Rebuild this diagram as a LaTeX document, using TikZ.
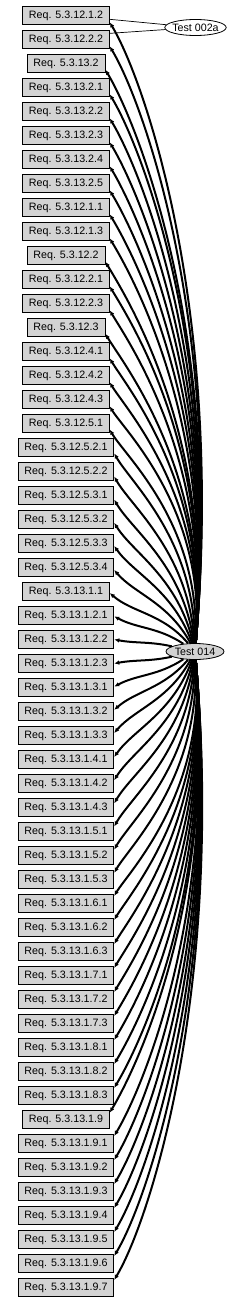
\documentclass[tikz,border=0pt]{standalone}
\usepackage{fontspec}
\usepackage{tikz}
\usetikzlibrary{arrows.meta,shapes.geometric}
\newfontfamily\reqfont{Liberation Sans}
\definecolor{reqgray}{RGB}{211,211,211}
\tikzset{
  req/.style={draw=black, line width=0.8pt, fill=reqgray, rectangle,
    minimum height=18pt, inner xsep=6.3pt, inner ysep=0pt},
  testnode/.style={draw=black, line width=0.8pt, ellipse, minimum width=58pt,
    minimum height=16pt, inner xsep=-1.5pt, inner ysep=0pt},
  dep/.style={line width=2pt, -{Latex[length=5pt,width=4.5pt]}},
  link/.style={line width=0.7pt}}

\begin{document}
\begin{tikzpicture}[x=1pt, y=1pt, font={\reqfont\fontsize{10.7}{12}\selectfont}]
  \useasboundingbox (0,0) rectangle (244,-1303);
  % requirement boxes
  \foreach \lbl [count=\i] in {5.3.12.1.2, 5.3.12.2.2, 5.3.13.2, 5.3.13.2.1,
      5.3.13.2.2, 5.3.13.2.3, 5.3.13.2.4, 5.3.13.2.5, 5.3.12.1.1, 5.3.12.1.3,
      5.3.12.2, 5.3.12.2.1, 5.3.12.2.3, 5.3.12.3, 5.3.12.4.1, 5.3.12.4.2,
      5.3.12.4.3, 5.3.12.5.1, 5.3.12.5.2.1, 5.3.12.5.2.2, 5.3.12.5.3.1,
      5.3.12.5.3.2, 5.3.12.5.3.3, 5.3.12.5.3.4, 5.3.13.1.1, 5.3.13.1.2.1,
      5.3.13.1.2.2, 5.3.13.1.2.3, 5.3.13.1.3.1, 5.3.13.1.3.2, 5.3.13.1.3.3,
      5.3.13.1.4.1, 5.3.13.1.4.2, 5.3.13.1.4.3, 5.3.13.1.5.1, 5.3.13.1.5.2,
      5.3.13.1.5.3, 5.3.13.1.6.1, 5.3.13.1.6.2, 5.3.13.1.6.3, 5.3.13.1.7.1,
      5.3.13.1.7.2, 5.3.13.1.7.3, 5.3.13.1.8.1, 5.3.13.1.8.2, 5.3.13.1.8.3,
      5.3.13.1.9, 5.3.13.1.9.1, 5.3.13.1.9.2, 5.3.13.1.9.3, 5.3.13.1.9.4,
      5.3.13.1.9.5, 5.3.13.1.9.6, 5.3.13.1.9.7}
    \node[req] (req\i) at (66,{-15.5-24*(\i-1)}) {Req. \lbl};
  % tests
  \node[testnode, fill=white] (t002a) at (195.5,-27.5) {Test 002a};
  \node[testnode, fill=reqgray] (t014) at (195,-651.5) {Test 014};
  \draw[link] (t002a) -- (req1.-5);
  \draw[link] (t002a) -- (req2.8);
  % fan out of Test 014
  \foreach \i in {1,...,54}{
    \pgfmathsetmacro{\d}{651.5-(15.5+24*(\i-1))}
    \pgfmathsetmacro{\sg}{(\d>0)*2-1}
    \pgfmathsetmacro{\s}{min(1,abs(\d)/250)}
    \pgfmathsetmacro{\th}{atan2(abs(\d),-85)}
    \pgfmathsetmacro{\ao}{\sg*((1-\s)*\th+\s*85)}
    \pgfmathsetmacro{\ai}{\sg*((1-\s)*(\th-180)-\s*59)}
    \pgfmathsetmacro{\lo}{1+0.35*\s}
    \pgfmathsetmacro{\li}{1-0.72*\s}
    \pgfmathtruncatemacro{\an}{-\sg*9*\s}
    \draw[dep] (t014) to[out=\ao, in=\ai, out looseness=\lo, in looseness=\li] (req\i.\an);
  }
\end{tikzpicture}
\end{document}
